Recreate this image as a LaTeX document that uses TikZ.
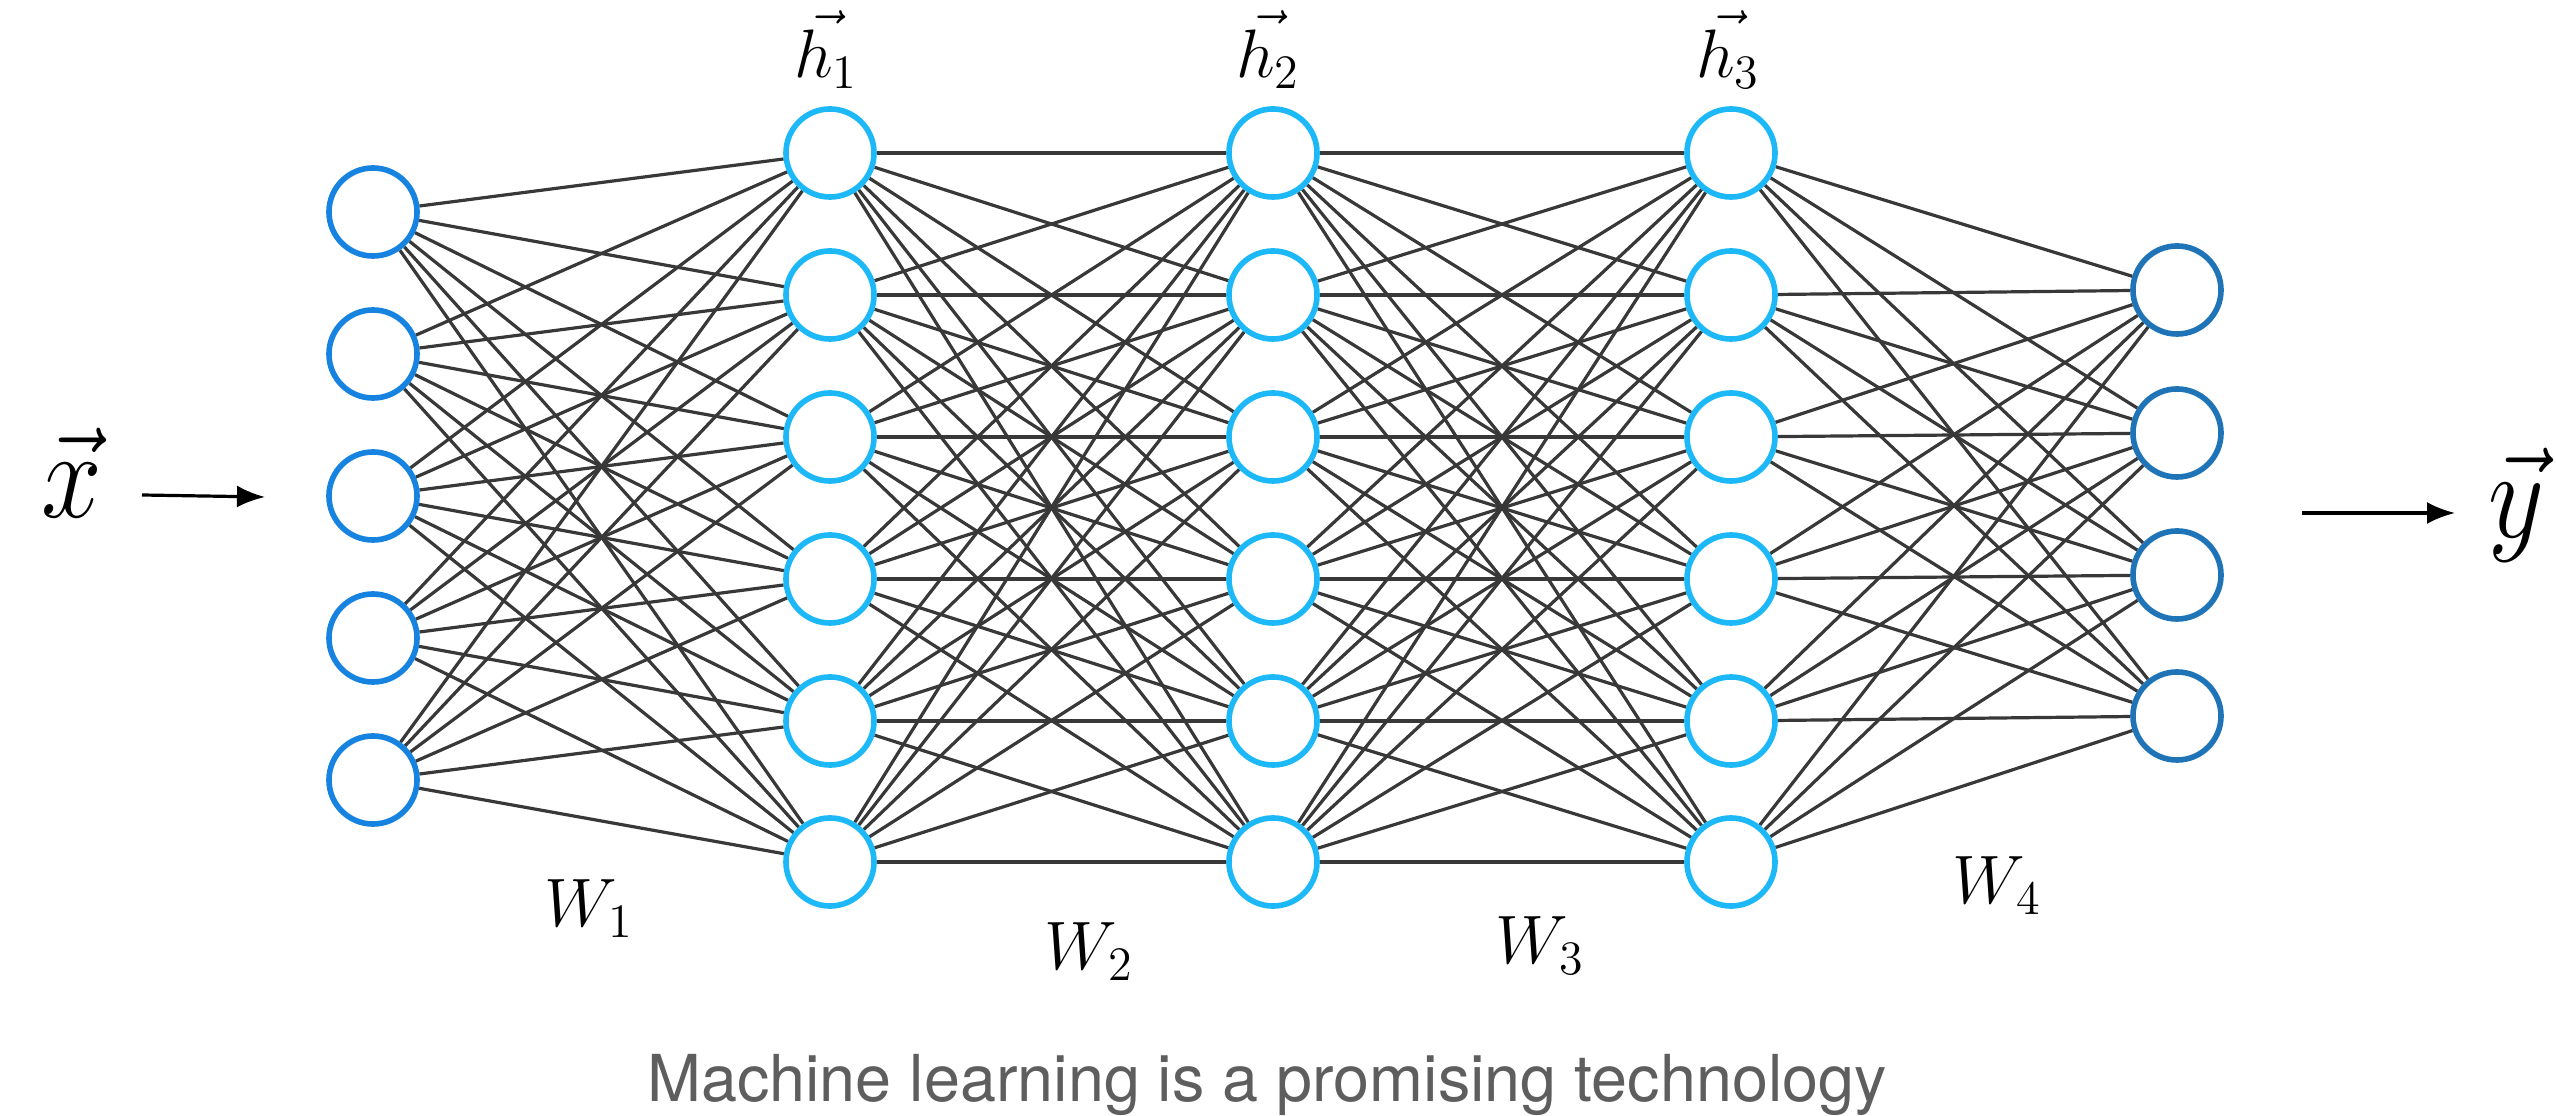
\RequirePackage{fix-cm}
\documentclass[tikz,border=0pt]{standalone}
\usepackage{fontspec}
\usepackage{graphicx}
\newfontfamily\capfont{TeX Gyre Heros}
\usetikzlibrary{arrows.meta,backgrounds}
\definecolor{inblue}{HTML}{1783E0}
\definecolor{hidblue}{HTML}{1CB8F8}
\definecolor{outblue}{HTML}{1E74B6}
\definecolor{linkgray}{HTML}{383838}
\definecolor{capgray}{HTML}{5E5E5E}
\begin{document}
\begin{tikzpicture}[x=0.01cm,y=-0.01cm,
  neuron/.style={circle,line width=0.056cm,fill=white,minimum size=0.88cm,inner sep=0pt},
  inneuron/.style={neuron,draw=inblue},
  hidneuron/.style={neuron,draw=hidblue},
  outneuron/.style={neuron,draw=outblue},
  link/.style={draw=linkgray,line width=0.032cm},
  flow/.style={line width=0.032cm,-{Latex[length=0.28cm,width=0.22cm]}},
  smallmath/.style={inner sep=0pt,font=\fontsize{19.5}{23}\selectfont},
  bigmath/.style={inner sep=0pt,font=\fontsize{31}{36}\selectfont},
  caption/.style={inner sep=0pt,text=capgray,font=\capfont\fontsize{18.4}{22}\selectfont}]
\useasboundingbox (0,0) rectangle (2556,1116);

% layers of neurons
\foreach \y [count=\i] in {212,354,496,638,780}
  \node[inneuron] (i\i) at (373,\y) {};
\foreach \y [count=\i] in {153,295,437,579,721,862} {
  \node[hidneuron] (a\i) at (830,\y) {};
  \node[hidneuron] (b\i) at (1273,\y) {};
  \node[hidneuron] (c\i) at (1731,\y) {};
}
\foreach \y [count=\i] in {290,433,575,716}
  \node[outneuron] (o\i) at (2177,\y) {};

% fully connected weights behind the neurons
\begin{scope}[on background layer]
  \fill[white] (0,0) rectangle (2556,1116);
  \foreach \s in {1,...,5}
    \foreach \t in {1,...,6}
      \draw[link] (i\s) -- (a\t);
  \foreach \s in {1,...,6}
    \foreach \t in {1,...,6} {
      \draw[link] (a\s) -- (b\t);
      \draw[link] (b\s) -- (c\t);
    }
  \foreach \s in {1,...,6}
    \foreach \t in {1,...,4}
      \draw[link] (c\s) -- (o\t);
\end{scope}

% hidden state labels
\node[smallmath,anchor=base] (h1) at (826,78) {$\vec{h_1}$};
\node[smallmath,anchor=base] (h2) at (1268,78) {$\vec{h_2}$};
\node[smallmath,anchor=base] (h3) at (1728,78) {$\vec{h_3}$};

% weight labels
\node[smallmath,anchor=base] (w1) at (589,927) {$W_1$};
\node[smallmath,anchor=base] (w2) at (1089,970) {$W_2$};
\node[smallmath,anchor=base] (w3) at (1540,964) {$W_3$};
\node[smallmath,anchor=base] (w4) at (1997,904) {$W_4$};

% input and output
\node[bigmath,anchor=base] (xv) at (72,518) {\scalebox{1}[1.15]{$\vec{x}$}};
\node[bigmath,anchor=base] (yv) at (2516,538) {\scalebox{1}[1.15]{$\vec{y}$}};
\coordinate (xs) at (142,495);
\coordinate (xe) at (265,497);
\coordinate (ys) at (2302,513);
\coordinate (ye) at (2455,513);
\draw[flow] (xs) -- (xe);
\draw[flow] (ys) -- (ye);

% caption
\node[caption,anchor=base] (cap) at (1267,1102) {Machine learning is a promising technology};
\end{tikzpicture}
\end{document}
